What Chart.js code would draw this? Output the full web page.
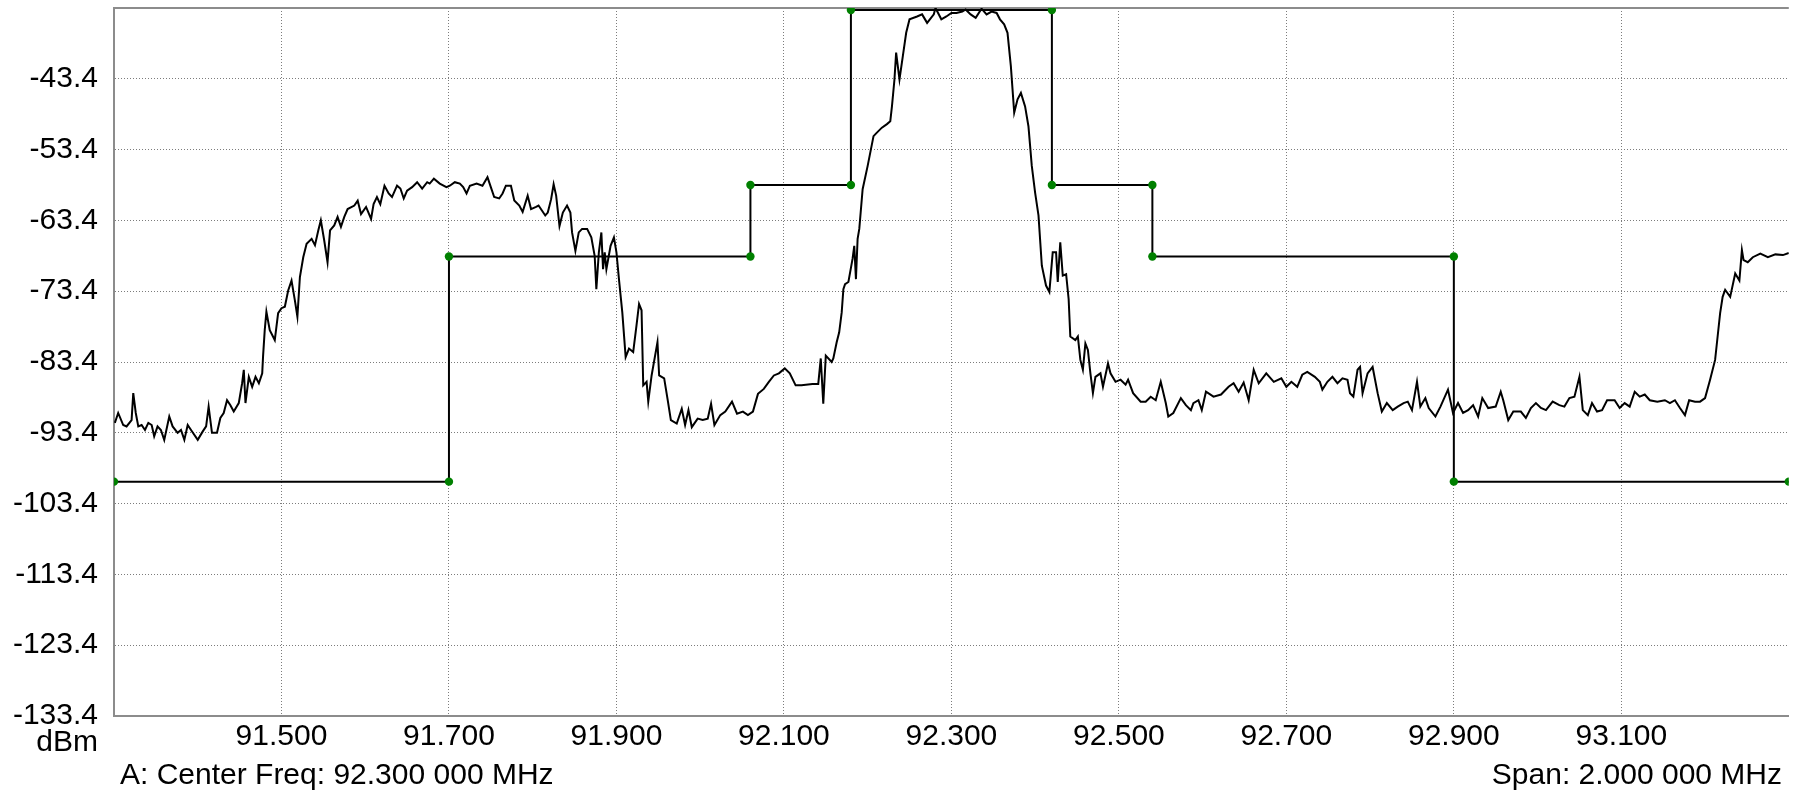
<!DOCTYPE html>
<html>
<head>
<meta charset="utf-8">
<script src="https://cdn.jsdelivr.net/npm/chart.js@4.4.1/dist/chart.umd.min.js"></script>
<style>
  html, body { margin: 0; padding: 0; background: #ffffff; }
  #wrap { width: 1793px; height: 791px; position: relative; }
  canvas { display: block; }
</style>
</head>
<body>
<div id="wrap"><canvas id="c" width="1793" height="791"></canvas></div>
<script>
// ---- Data ----
const xTickValues = [91.5, 91.7, 91.9, 92.1, 92.3, 92.5, 92.7, 92.9, 93.1];
const xTickLabels = ["91.500", "91.700", "91.900", "92.100", "92.300", "92.500", "92.700", "92.900", "93.100"];
const yTickValues = [-133.4, -123.4, -113.4, -103.4, -93.4, -83.4, -73.4, -63.4, -53.4, -43.4];
const yTickLabels = ["-133.4", "-123.4", "-113.4", "-103.4", "-93.4", "-83.4", "-73.4", "-63.4", "-53.4", "-43.4"];
const xMin = 91.3, xMax = 93.3;
const yMin = -133.4, yMax = -33.4;

const unitLabel = "dBm";
const centerText = "A: Center Freq: 92.300 000 MHz";
const spanText = "Span: 2.000 000 MHz";

// Limit mask (step line with vertices)
const maskFreq  = [91.3, 91.7, 91.7, 92.06, 92.06, 92.18, 92.18, 92.42, 92.42, 92.54, 92.54, 92.9, 92.9, 93.3];
const maskLevel = [-100.3, -100.3, -68.5, -68.5, -58.4, -58.4, -33.7, -33.7, -58.4, -58.4, -68.5, -68.5, -100.3, -100.3];

// Spectrum trace
const traceFreq = [
91.301,91.305,91.311,91.315,91.321,91.323,91.326,91.329,91.333,91.337,91.341,91.345,91.348,91.352,91.356,91.360,
91.366,91.370,91.376,91.380,91.384,91.388,91.392,91.400,91.406,91.410,91.413,91.417,91.423,91.427,91.431,91.435,
91.439,91.443,91.449,91.453,91.455,91.457,91.461,91.465,91.469,91.473,91.477,91.478,91.480,91.482,91.486,91.492,
91.496,91.500,91.504,91.508,91.512,91.516,91.519,91.522,91.526,91.530,91.536,91.540,91.544,91.547,91.551,91.555,
91.558,91.563,91.567,91.571,91.575,91.579,91.587,91.591,91.595,91.601,91.607,91.610,91.614,91.618,91.623,91.628,
91.632,91.638,91.642,91.646,91.650,91.656,91.662,91.668,91.674,91.677,91.682,91.689,91.697,91.701,91.707,91.713,
91.717,91.721,91.725,91.733,91.740,91.746,91.750,91.754,91.760,91.764,91.768,91.774,91.778,91.784,91.788,91.794,
91.798,91.804,91.807,91.811,91.815,
91.818,91.822,91.825,91.828,91.832,91.836,91.841,91.845,91.847,91.851,91.855,91.859,91.865,91.870,91.874,91.876,
91.879,91.882,91.884,91.886,91.888,91.893,91.897,91.900,91.903,91.907,91.911,91.915,91.920,91.924,91.927,91.930,
91.932,91.936,91.938,91.942,91.949,91.951,91.957,91.961,91.965,91.972,91.978,91.982,91.986,91.990,91.997,92.003,
92.009,92.013,92.017,92.024,92.030,92.038,92.044,92.051,92.057,92.063,92.069,92.076,92.082,92.088,92.094,92.101,
92.107,92.114,92.121,92.134,92.141,92.144,92.147,92.150,92.157,92.159,92.163,92.166,92.169,92.171,92.173,92.177,
92.182,92.184,92.186,92.188,92.190,92.194,92.200,92.207,92.211,92.217,92.223,92.227,92.229,92.232,92.234,92.238,
92.242,92.246,92.250,92.259,92.265,92.271,92.279,92.281,92.288,92.294,92.300,92.306,92.313,92.317,92.323,92.329,
92.336,92.342,92.348,92.354,92.358,92.363,92.367,92.371,92.373,92.375,92.379,92.383,92.388,92.392,92.396,92.400,
92.404,92.408,92.413,92.417,92.419,92.421,92.425,92.427,92.430,92.433,92.437,92.440,92.442,
92.448,92.451,92.454,92.457,92.460,92.463,92.466,92.469,92.472,92.478,92.481,92.487,92.490,92.496,92.502,92.508,
92.511,92.517,92.526,92.532,92.538,92.544,92.550,92.556,92.559,92.565,92.574,92.580,92.586,92.589,92.595,92.599,
92.604,92.613,92.622,92.631,92.637,92.643,92.649,92.655,92.661,92.667,92.676,92.685,92.694,92.700,92.706,92.713,
92.719,92.725,92.734,92.740,92.743,92.749,92.755,92.761,92.767,92.773,92.776,92.780,92.785,92.788,92.791,92.797,
92.803,92.809,92.814,92.820,92.827,92.833,92.840,92.845,92.850,92.856,92.860,92.866,92.870,92.878,92.884,92.893,
92.899,92.905,92.911,92.917,92.923,92.929,92.934,92.941,92.950,92.956,92.959,92.965,92.971,92.980,92.986,92.992,
92.998,93.004,93.010,93.018,93.026,93.032,93.038,93.044,93.050,93.054,93.060,93.065,93.071,93.077,93.083,93.092,
93.098,93.104,93.110,93.116,93.122,93.128,93.134,93.143,93.152,93.158,93.164,93.170,93.176,93.181,93.188,93.194,
93.200,93.206,93.212,93.215,93.218,93.221,93.224,93.230,93.236,93.241,93.244,93.246,93.251,93.257,93.266,93.275,
93.284,93.293,93.300
];
const traceLevel = [
-92.0,-90.6,-92.3,-92.5,-91.6,-87.8,-90.6,-92.5,-92.3,-93.0,-92.0,-92.3,-93.9,-92.5,-93.0,-94.4,
-91.1,-92.5,-93.4,-93.0,-94.4,-92.3,-93.0,-94.4,-93.2,-92.5,-89.7,-93.4,-93.4,-91.3,-90.6,-88.8,
-89.5,-90.4,-89.2,-86.4,-84.5,-89.2,-85.5,-86.9,-85.5,-86.4,-85.0,-82.6,-78.9,-76.3,-78.9,-80.3,
-76.5,-75.8,-75.6,-73.3,-71.9,-74.7,-77.0,-71.4,-68.6,-66.7,-66.0,-66.9,-64.8,-63.4,-66.2,-69.3,
-64.8,-64.1,-62.9,-64.3,-62.9,-61.8,-61.3,-60.6,-62.5,-61.5,-63.2,-61.1,-60.1,-61.1,-58.5,-59.6,
-60.1,-58.5,-58.9,-60.3,-59.2,-58.7,-58.0,-58.9,-58.0,-58.2,-57.5,-58.2,-58.7,-58.5,-58.0,-58.2,
-58.7,-59.6,-58.5,-58.2,-58.5,-57.3,-58.7,-60.1,-60.3,-59.6,-58.5,-58.5,-60.6,-61.3,-62.2,-59.9,
-61.8,-61.5,-61.3,-62.0,-62.7,
-62.3,-60.4,-58.3,-59.9,-64.2,-62.3,-61.3,-62.3,-65.1,-67.7,-65.1,-64.6,-64.6,-65.8,-68.4,-73.1,
-67.9,-65.1,-70.3,-67.9,-70.3,-67.0,-65.8,-67.9,-71.7,-76.4,-82.7,-81.5,-82.0,-78.2,-75.2,-76.1,
-86.7,-86.2,-89.0,-85.3,-80.6,-85.3,-85.7,-88.6,-91.6,-92.1,-90.0,-92.3,-90.2,-92.6,-91.4,-91.6,
-91.4,-89.3,-92.3,-90.9,-90.4,-89.0,-90.7,-90.4,-90.9,-90.4,-87.9,-87.2,-86.2,-85.3,-85.0,-84.3,
-85.0,-86.7,-86.7,-86.5,-86.5,-82.9,-89.3,-82.5,-83.4,-82.9,-80.6,-79.2,-76.4,-73.1,-72.4,-72.1,
-68.8,-67.0,-71.7,-66.0,-64.6,-59.0,-55.7,-51.5,-51.0,-50.3,-49.8,-49.4,-47.3,-43.5,-39.7,-43.5,
-40.2,-36.9,-35.0,-34.6,-34.3,-35.5,-34.3,-33.4,-35.0,-34.6,-34.1,-34.1,-33.9,-33.6,-34.3,-34.8,
-33.5,-34.3,-33.9,-34.1,-35.0,-35.7,-36.9,-41.6,-44.9,-48.2,-46.3,-45.4,-47.3,-50.1,-55.7,-59.5,
-62.7,-69.8,-72.6,-73.5,-70.7,-67.9,-67.9,-72.1,-66.5,-71.2,-71.0,-74.5,-79.8,
-80.3,-79.8,-83.1,-84.5,-80.8,-81.7,-85.0,-87.8,-85.5,-85.0,-86.9,-83.6,-85.0,-86.2,-85.9,-86.6,
-85.9,-87.8,-89.0,-89.0,-88.3,-88.8,-86.2,-89.2,-91.1,-90.6,-88.5,-89.5,-90.2,-89.2,-88.8,-90.2,
-87.6,-88.3,-88.0,-86.9,-86.4,-87.6,-86.3,-88.8,-84.5,-86.4,-85.0,-86.2,-85.7,-86.9,-86.2,-86.9,
-85.2,-84.8,-85.5,-86.2,-87.3,-86.2,-85.5,-86.4,-85.7,-85.9,-87.8,-88.3,-84.5,-84.1,-87.8,-85.0,
-84.1,-87.8,-90.4,-89.2,-90.2,-89.7,-89.2,-89.0,-90.2,-86.2,-89.7,-88.5,-89.9,-91.1,-89.7,-87.3,
-90.6,-89.2,-90.6,-90.2,-89.5,-91.1,-88.5,-89.9,-89.7,-87.6,-88.8,-91.6,-90.4,-90.4,-91.3,-89.9,
-89.2,-89.9,-90.2,-89.0,-89.5,-89.7,-88.5,-88.3,-85.5,-90.2,-90.9,-89.2,-90.4,-90.2,-88.8,-88.8,
-89.9,-89.2,-89.7,-87.6,-88.3,-88.0,-88.8,-89.0,-88.8,-89.2,-88.8,-89.9,-90.9,-88.8,-89.0,-89.0,
-88.5,-85.9,-83.1,-79.8,-76.5,-74.2,-73.2,-74.2,-70.9,-71.9,-67.6,-69.0,-69.3,-68.6,-68.1,-68.6,
-68.2,-68.3,-68.0
];

// ---- Chart ----
const FONT_FAMILY = "'Liberation Sans', Arial, 'DejaVu Sans', sans-serif";
const FONT_SIZE = 30;
const AXIS_GREY = '#8c8c8c';
const GRID_GREY = '#7c7c7c';

const traceData = traceFreq.map((f, i) => ({ x: f, y: traceLevel[i] }));
const maskData = maskFreq.map((f, i) => ({ x: f, y: maskLevel[i] }));

const frameAndText = {
  id: 'frameAndText',
  beforeDatasetsDraw(chart) {
    const { ctx, chartArea: a } = chart;
    ctx.save();
    ctx.strokeStyle = AXIS_GREY;
    ctx.lineWidth = 2;
    ctx.beginPath();
    ctx.moveTo(a.left, a.top);
    ctx.lineTo(a.right, a.top);
    ctx.stroke();
    ctx.restore();
  },
  afterDraw(chart) {
    const { ctx } = chart;
    ctx.save();
    ctx.fillStyle = '#000000';
    ctx.font = FONT_SIZE + 'px ' + FONT_FAMILY;
    ctx.textBaseline = 'alphabetic';
    ctx.textAlign = 'right';
    ctx.fillText(unitLabel, 98, 751);
    ctx.textAlign = 'left';
    ctx.fillText(centerText, 120, 784);
    ctx.textAlign = 'right';
    ctx.fillText(spanText, 1782, 784);
    ctx.restore();
  }
};

new Chart(document.getElementById('c'), {
  type: 'scatter',
  data: {
    datasets: [
      {
        label: 'Trace',
        data: traceData,
        showLine: true,
        borderColor: '#000000',
        borderWidth: 2,
        pointRadius: 0,
        pointHoverRadius: 0,
        tension: 0,
        order: 2
      },
      {
        label: 'Mask',
        data: maskData,
        showLine: true,
        borderColor: '#000000',
        borderWidth: 2,
        pointRadius: 4.2,
        pointHoverRadius: 4.2,
        pointBackgroundColor: '#008000',
        pointBorderColor: '#008000',
        pointBorderWidth: 0,
        tension: 0,
        order: 1
      }
    ]
  },
  options: {
    responsive: false,
    animation: false,
    devicePixelRatio: 1,
    layout: { padding: { top: 8, right: 0, left: 0, bottom: 0 } },
    plugins: {
      legend: { display: false },
      tooltip: { enabled: false },
      title: { display: false }
    },
    events: [],
    scales: {
      x: {
        type: 'linear',
        position: 'bottom',
        min: xMin,
        max: xMax,
        afterFit(scale) {
          scale.height = 75;
          scale.paddingLeft = 0; scale.paddingRight = 0;
        },
        afterBuildTicks(scale) { scale.ticks = xTickValues.map(v => ({ value: v })); },
        ticks: {
          autoSkip: false,
          maxRotation: 0,
          minRotation: 0,
          padding: 3,
          color: '#000000',
          font: { family: FONT_FAMILY, size: FONT_SIZE },
          callback(value) {
            const i = xTickValues.findIndex(v => Math.abs(v - value) < 1e-9);
            return i >= 0 ? xTickLabels[i] : '';
          }
        },
        grid: {
          display: true,
          drawTicks: false,
          color: GRID_GREY,
          lineWidth: 1
        },
        border: { display: true, color: AXIS_GREY, width: 2, dash: [1, 2] }
      },
      y: {
        type: 'linear',
        position: 'left',
        min: yMin,
        max: yMax,
        afterFit(scale) {
          scale.width = 114;
          scale.paddingTop = 0; scale.paddingBottom = 0;
        },
        afterBuildTicks(scale) { scale.ticks = yTickValues.map(v => ({ value: v })); },
        ticks: {
          autoSkip: false,
          padding: 16,
          color: '#000000',
          font: { family: FONT_FAMILY, size: FONT_SIZE },
          callback(value) {
            const i = yTickValues.findIndex(v => Math.abs(v - value) < 1e-9);
            return i >= 0 ? yTickLabels[i] : '';
          }
        },
        grid: {
          display: true,
          drawTicks: false,
          color: GRID_GREY,
          lineWidth: 1
        },
        border: { display: true, color: AXIS_GREY, width: 2, dash: [1, 2] }
      }
    }
  },
  plugins: [frameAndText]
});
</script>
</body>
</html>
